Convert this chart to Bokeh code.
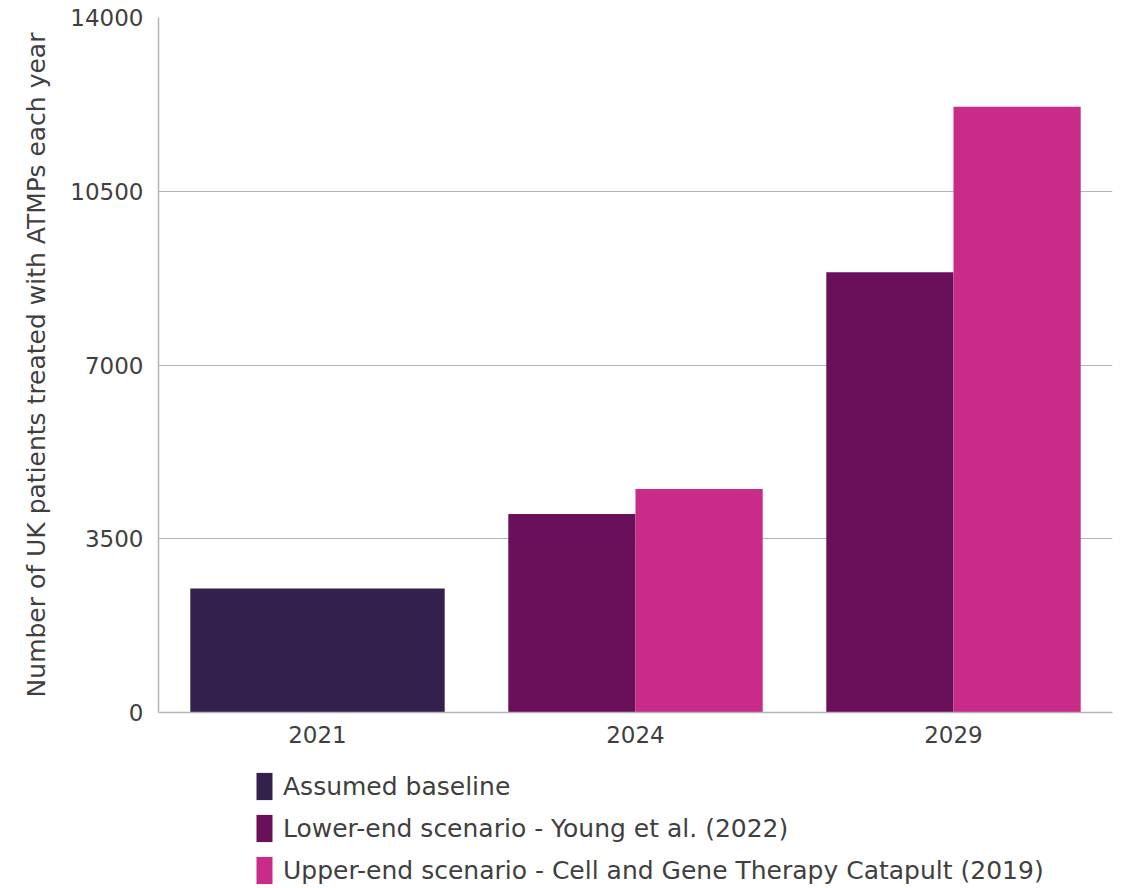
from bokeh.plotting import figure
from bokeh.models import ColumnDataSource, FixedTicker, Legend, LegendItem, FactorRange, Range1d
from bokeh.layouts import column
from bokeh.transform import dodge
from bokeh.embed import file_html
from bokeh.resources import INLINE

years = ["2021", "2024", "2029"]
baseline_years = ["2021"]
baseline_values = [2500]
scenario_years = ["2024", "2029"]
lower_values = [4000, 8870]
upper_values = [4500, 12200]
y_ticks = [0, 3500, 7000, 10500, 14000]

labels = ["Assumed baseline",
          "Lower-end scenario - Young et al. (2022)",
          "Upper-end scenario - Cell and Gene Therapy Catapult (2019)"]
colors = ["#33204C", "#6A0F5A", "#C92B88"]

FONT = "DejaVu Sans"
TXT = "#3f3f3f"

p = figure(x_range=FactorRange(*years), y_range=Range1d(0, 14000),
           width=1117, height=760, output_backend="svg", toolbar_location=None,
           min_border_left=158, min_border_right=5, min_border_top=17, min_border_bottom=48)
p.outline_line_color = None

src_b = ColumnDataSource(dict(x=baseline_years, top=baseline_values))
src_s = ColumnDataSource(dict(x=scenario_years, lower=lower_values, upper=upper_values))

r0 = p.vbar(x="x", top="top", width=0.8, source=src_b, color=colors[0], line_color=None)
r1 = p.vbar(x=dodge("x", -0.2, range=p.x_range), top="lower", width=0.4, source=src_s,
            color=colors[1], line_color=None)
r2 = p.vbar(x=dodge("x", 0.2, range=p.x_range), top="upper", width=0.4, source=src_s,
            color=colors[2], line_color=None)

p.xgrid.grid_line_color = None
p.ygrid.grid_line_color = "#b5b5b5"
p.ygrid.grid_line_width = 1
p.yaxis.ticker = FixedTicker(ticks=y_ticks)

for ax in (p.xaxis[0], p.yaxis[0]):
    ax.axis_line_color = "#b5b5b5"
    ax.axis_line_width = 1.5
    ax.major_tick_line_color = None
    ax.minor_tick_line_color = None
    ax.major_label_text_font = FONT
    ax.major_label_text_font_size = "23px"
    ax.major_label_text_color = TXT
p.xaxis.major_label_standoff = 7
p.yaxis.major_label_standoff = 9
p.yaxis.axis_label = "Number of UK patients treated with ATMPs each year"
p.yaxis.axis_label_text_font = FONT
p.yaxis.axis_label_text_font_size = "25px"
p.yaxis.axis_label_text_font_style = "normal"
p.yaxis.axis_label_text_color = TXT
p.yaxis.axis_label_standoff = 16

# legend figure (its frame is aligned with the chart's frame by the column layout)
lg = figure(x_range=Range1d(0, 1), y_range=Range1d(0, 1), width=1117, height=128,
            output_backend="svg", toolbar_location=None,
            min_border_left=158, min_border_right=5, min_border_top=0, min_border_bottom=0)
lg.axis.visible = False
lg.grid.grid_line_color = None
lg.outline_line_color = None
offscreen = ColumnDataSource(dict(x=[-10], top=[-10]))
lr = [lg.vbar(x="x", top="top", width=0.1, source=offscreen, color=c, line_color=None) for c in colors]

legend = Legend(items=[LegendItem(label=l, renderers=[r]) for l, r in zip(labels, lr)],
                location=(96, 1), orientation="vertical",
                glyph_width=20, glyph_height=34, spacing=8, padding=0, margin=0,
                label_standoff=9, label_text_font=FONT, label_text_font_size="25px",
                label_text_color=TXT, border_line_color=None, background_fill_alpha=0,
                label_height=34)
lg.add_layout(legend, "center")

open("out.html", "w").write(file_html(column(p, lg), INLINE))
